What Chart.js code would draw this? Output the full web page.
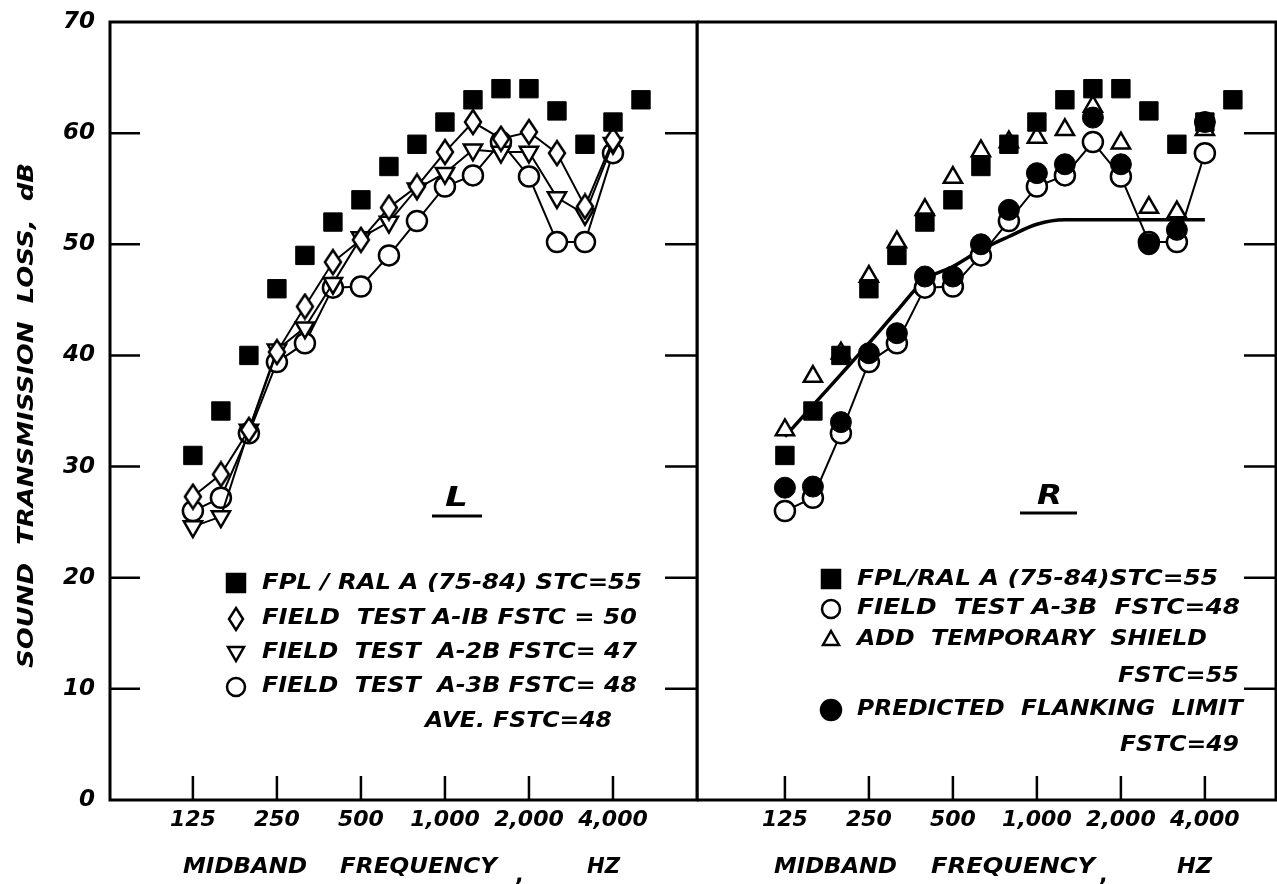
<!DOCTYPE html>
<html>
<head>
<meta charset="UTF-8" />
<title>Sound transmission loss</title>
<script src="https://cdn.jsdelivr.net/npm/chart.js"></script>
<style>
  body { margin: 0; padding: 0; background: #ffffff; }
  #wrap { position: relative; width: 1277px; height: 884px; }
  canvas { position: absolute; top: 0; }
  #left { left: 0; }
  #right { left: 697px; }
</style>
<script>
// one-third octave bands, index 0 = 125 Hz
const bands = ['125', '160', '200', '250', '315', '400', '500', '630', '800', '1000', '1250', '1600', '2000', '2500', '3150', '4000', '5000'];
const tickBands = [0, 3, 6, 9, 12, 15];
const tickLabels = ['125', '250', '500', '1,000', '2,000', '4,000'];
const yTicks = [0, 10, 20, 30, 40, 50, 60, 70];

// dB values
const fplRalA = [31, 35, 40, 46, 49, 52, 54, 57, 59, 61, 63, 64, 64, 62, 59, 61, 63];
const fieldA1B = [27.3, 29.3, 33.3, 40.3, 44.4, 48.4, 50.4, 53.3, 55.2, 58.3, 61, 59.5, 60.1, 58.2, 53.4, 59.4];
const fieldA2B = [24.6, 25.5, 33.3, 40.5, 42.5, 46.5, 50.6, 52, 55, 56.4, 58.5, 58.3, 58.3, 54.2, 52.7, 59.1];
const fieldA3B = [26, 27.2, 33, 39.4, 41.1, 46.1, 46.2, 49, 52.1, 55.2, 56.2, 59.2, 56.1, 50.2, 50.2, 58.2];
const shieldAdded = [33.3, 38.1, 40.2, 47.1, 50.2, 53.1, 56, 58.4, 59.2, 59.6, 60.3, 62.4, 59.1, 53.3, 52.9, 60.3];
const flankPoints = [28.1, 28.2, 34, 40.2, 42, 47.1, 47.1, 50, 53.1, 56.4, 57.2, 61.4, 57.2, 50, 51.3, 61];
const flankLimit = [32.7, 35.5, 38.3, 41.1, 44, 46.8, 48, 49.5, 50.7, 51.8, 52.2, 52.2, 52.2, 52.2, 52.2, 52.2];

function pts(values) {
    return values.map((v, i) => ({ x: i, y: v }));
}

function diamondImage() {
    const c = document.createElement('canvas');
    c.width = 20; c.height = 28;
    const g = c.getContext('2d');
    g.beginPath();
    g.moveTo(10, 2); g.lineTo(18, 14); g.lineTo(10, 26); g.lineTo(2, 14); g.closePath();
    g.fillStyle = '#ffffff'; g.fill();
    g.lineWidth = 2.5; g.strokeStyle = '#000000'; g.stroke();
    return c;
}

function fitText(ctx, text, x0, x1, y, size) {
    ctx.save();
    ctx.font = 'italic bold ' + size + 'px "DejaVu Sans"';
    ctx.textBaseline = 'middle';
    ctx.fillStyle = '#000';
    const w = ctx.measureText(text).width;
    ctx.translate(x0, y);
    ctx.scale((x1 - x0) / w, 1);
    ctx.fillText(text, 0, 0);
    ctx.restore();
}

function drawMarker(ctx, kind, x, y) {
    ctx.save();
    ctx.lineWidth = 2.5;
    ctx.strokeStyle = '#000';
    ctx.fillStyle = '#fff';
    ctx.beginPath();
    if (kind === 'square') { ctx.fillStyle = '#000'; ctx.rect(x - 9, y - 9, 18, 18); }
    else if (kind === 'circle') { ctx.arc(x, y, 9, 0, 2 * Math.PI); }
    else if (kind === 'dot') { ctx.fillStyle = '#000'; ctx.arc(x, y, 10, 0, 2 * Math.PI); }
    else if (kind === 'diamond') { ctx.moveTo(x, y - 11); ctx.lineTo(x + 7, y); ctx.lineTo(x, y + 11); ctx.lineTo(x - 7, y); ctx.closePath(); }
    else if (kind === 'triDown') { ctx.moveTo(x - 8, y - 6); ctx.lineTo(x + 8, y - 6); ctx.lineTo(x, y + 8); ctx.closePath(); }
    else if (kind === 'triUp') { ctx.moveTo(x - 8, y + 6); ctx.lineTo(x + 8, y + 6); ctx.lineTo(x, y - 8); ctx.closePath(); }
    ctx.fill();
    ctx.stroke();
    ctx.restore();
}

// frame, inward ticks, legend and hand lettering
const panelDecor = {
    id: 'panelDecor',
    beforeDatasetsDraw(chart, args, opts) {
        const ctx = chart.ctx, a = chart.chartArea, sx = chart.scales.x, sy = chart.scales.y;
        ctx.save();
        ctx.strokeStyle = '#000';
        ctx.lineWidth = 3;
        ctx.strokeRect(a.left, a.top, a.right - a.left, a.bottom - a.top);
        ctx.lineWidth = 2.5;
        ctx.beginPath();
        yTicks.slice(1, -1).forEach(v => {
            const py = sy.getPixelForValue(v);
            if (opts.leftTicks) { ctx.moveTo(a.left, py); ctx.lineTo(a.left + 30, py); }
            if (opts.rightTicks) { ctx.moveTo(a.right, py); ctx.lineTo(a.right - 32, py); }
        });
        tickBands.forEach(v => {
            const px = sx.getPixelForValue(v);
            ctx.moveTo(px, a.bottom); ctx.lineTo(px, a.bottom - 24);
        });
        ctx.stroke();
        ctx.restore();
    },
    afterDraw(chart, args, opts) {
        const ctx = chart.ctx, off = opts.offsetX;
        (opts.texts || []).forEach(t => {
            fitText(ctx, t.text, t.x0 - off, t.x1 - off, t.y, t.size);
        });
        (opts.markers || []).forEach(m => drawMarker(ctx, m.kind, m.x - off, m.y));
        (opts.rules || []).forEach(r => {
            ctx.save();
            ctx.lineWidth = 3;
            ctx.beginPath();
            ctx.moveTo(r.x0 - off, r.y); ctx.lineTo(r.x1 - off, r.y);
            ctx.stroke();
            ctx.restore();
        });
        if (opts.yTitle) {
            ctx.save();
            ctx.translate(28, 668);
            ctx.rotate(-Math.PI / 2);
            fitText(ctx, 'SOUND  TRANSMISSION  LOSS,  dB', 0, 505, 0, 21);
            ctx.restore();
        }
    }
};

function xScale(min, max) {
    return {
        type: 'linear',
        min: min,
        max: max,
        grid: { display: false, drawTicks: false },
        border: { display: false },
        afterBuildTicks: s => { s.ticks = tickBands.map(v => ({ value: v })); },
        afterFit: s => { s.height = 84; s.paddingLeft = 0; s.paddingRight = 0; },
        ticks: {
            color: '#000',
            padding: 7,
            maxRotation: 0,
            autoSkip: false,
            font: { family: 'DejaVu Sans', style: 'italic', weight: 'bold', size: 22 },
            callback: v => tickLabels[tickBands.indexOf(v)]
        }
    };
}

function yScale(showLabels, width) {
    return {
        type: 'linear',
        min: 0,
        max: 70,
        grid: { display: false, drawTicks: false },
        border: { display: false },
        afterBuildTicks: s => { s.ticks = yTicks.map(v => ({ value: v })); },
        afterFit: s => { s.width = width; s.paddingTop = 0; s.paddingBottom = 0; },
        ticks: {
            display: showLabels,
            color: '#000',
            padding: 15,
            font: { family: 'DejaVu Sans', style: 'italic', weight: 'bold', size: 23 }
        }
    };
}

function openStyle(style, radius, rotation) {
    return {
        pointStyle: style,
        pointRadius: radius,
        pointRotation: rotation || 0,
        pointBackgroundColor: '#ffffff',
        pointBorderColor: '#000000',
        pointBorderWidth: 2.5,
        borderColor: '#000000',
        borderWidth: 2
    };
}

function drawCharts() {
    const diamond = diamondImage();
    const common = {
        responsive: false,
        animation: false,
        events: [],
        plugins: { legend: { display: false }, tooltip: { enabled: false } }
    };

    new Chart(document.getElementById('left'), {
        type: 'scatter',
        data: {
            datasets: [
                { label: 'FPL/RAL A (75-84) STC=55', data: pts(fplRalA), showLine: false, order: 0,
                  pointStyle: 'rect', pointRadius: 13, pointBackgroundColor: '#000', pointBorderColor: '#000', pointBorderWidth: 1 },
                { label: 'FIELD TEST A-1B FSTC=50', data: pts(fieldA1B), showLine: true, order: 1,
                  ...openStyle(diamond, 10) },
                { label: 'FIELD TEST A-2B FSTC=47', data: pts(fieldA2B), showLine: true, order: 2,
                  ...openStyle('triangle', 10.5, 180) },
                { label: 'FIELD TEST A-3B FSTC=48', data: pts(fieldA3B), showLine: true, order: 3,
                  ...openStyle('circle', 10) }
            ]
        },
        options: {
            ...common,
            layout: { autoPadding: false, padding: { top: 22, right: 3, left: 0, bottom: 0 } },
            scales: { x: xScale(-2.96, 18.0), y: yScale(true, 110) },
            plugins: {
                ...common.plugins,
                panelDecor: {
                    offsetX: 0,
                    leftTicks: true,
                    rightTicks: true,
                    yTitle: true,
                    texts: [
                        { text: 'MIDBAND', x0: 183, x1: 307, y: 867, size: 22 },
                        { text: 'FREQUENCY', x0: 340, x1: 497, y: 867, size: 22 },
                        { text: ',', x0: 516, x1: 524, y: 876, size: 24 },
                        { text: 'HZ', x0: 587, x1: 620, y: 867, size: 22 },
                        { text: 'L', x0: 445, x1: 468, y: 499, size: 26 },
                        { text: 'FPL / RAL A (75-84) STC=55', x0: 262, x1: 642, y: 584, size: 21 },
                        { text: 'FIELD  TEST A-IB FSTC = 50', x0: 262, x1: 637, y: 619, size: 21 },
                        { text: 'FIELD  TEST  A-2B FSTC= 47', x0: 262, x1: 637, y: 653, size: 21 },
                        { text: 'FIELD  TEST  A-3B FSTC= 48', x0: 262, x1: 637, y: 687, size: 21 },
                        { text: 'AVE. FSTC=48', x0: 425, x1: 612, y: 722, size: 21 }
                    ],
                    markers: [
                        { kind: 'square', x: 236, y: 583 },
                        { kind: 'diamond', x: 236, y: 619 },
                        { kind: 'triDown', x: 236, y: 653 },
                        { kind: 'circle', x: 236, y: 687 }
                    ],
                    rules: [{ x0: 432, x1: 482, y: 516 }]
                }
            }
        },
        plugins: [panelDecor]
    });

    new Chart(document.getElementById('right'), {
        type: 'scatter',
        data: {
            datasets: [
                { label: 'PREDICTED FLANKING LIMIT FSTC=49', data: pts(flankPoints), showLine: false, order: 0,
                  pointStyle: 'circle', pointRadius: 10.5, pointBackgroundColor: '#000', pointBorderColor: '#000', pointBorderWidth: 1 },
                { label: 'FPL/RAL A (75-84)STC=55', data: pts(fplRalA), showLine: false, order: 1,
                  pointStyle: 'rect', pointRadius: 13, pointBackgroundColor: '#000', pointBorderColor: '#000', pointBorderWidth: 1 },
                { label: 'ADD TEMPORARY SHIELD FSTC=55', data: pts(shieldAdded), showLine: false, order: 2,
                  ...openStyle('triangle', 10.5, 0) },
                { label: 'FIELD TEST A-3B FSTC=48', data: pts(fieldA3B), showLine: true, order: 3,
                  ...openStyle('circle', 10) },
                { label: 'flanking limit', data: pts(flankLimit), showLine: true, order: 4,
                  pointRadius: 0, borderColor: '#000', borderWidth: 3.5, cubicInterpolationMode: 'monotone' }
            ]
        },
        options: {
            ...common,
            layout: { autoPadding: false, padding: { top: 22, right: 1, left: 0, bottom: 0 } },
            scales: { x: xScale(-3.14, 17.54), y: yScale(false, 0) },
            plugins: {
                ...common.plugins,
                panelDecor: {
                    offsetX: 697,
                    leftTicks: false,
                    rightTicks: true,
                    yTitle: false,
                    texts: [
                        { text: 'MIDBAND', x0: 774, x1: 897, y: 867, size: 22 },
                        { text: 'FREQUENCY', x0: 931, x1: 1095, y: 867, size: 22 },
                        { text: ',', x0: 1100, x1: 1108, y: 876, size: 24 },
                        { text: 'HZ', x0: 1177, x1: 1212, y: 867, size: 22 },
                        { text: 'R', x0: 1037, x1: 1062, y: 497, size: 26 },
                        { text: 'FPL/RAL A (75-84)STC=55', x0: 857, x1: 1218, y: 580, size: 21 },
                        { text: 'FIELD  TEST A-3B  FSTC=48', x0: 857, x1: 1240, y: 609, size: 21 },
                        { text: 'ADD  TEMPORARY  SHIELD', x0: 857, x1: 1207, y: 640, size: 21 },
                        { text: 'FSTC=55', x0: 1118, x1: 1239, y: 677, size: 21 },
                        { text: 'PREDICTED  FLANKING  LIMIT', x0: 857, x1: 1243, y: 710, size: 21 },
                        { text: 'FSTC=49', x0: 1120, x1: 1239, y: 746, size: 21 }
                    ],
                    markers: [
                        { kind: 'square', x: 831, y: 579 },
                        { kind: 'circle', x: 831, y: 609 },
                        { kind: 'triUp', x: 831, y: 639 },
                        { kind: 'dot', x: 831, y: 710 }
                    ],
                    rules: [{ x0: 1020, x1: 1077, y: 513 }]
                }
            }
        },
        plugins: [panelDecor]
    });
}
</script>
</head>
<body>
<div id="wrap">
  <canvas id="left" width="700" height="884"></canvas>
  <canvas id="right" width="580" height="884"></canvas>
</div>
<script>
    drawCharts();
</script>
</body>
</html>
